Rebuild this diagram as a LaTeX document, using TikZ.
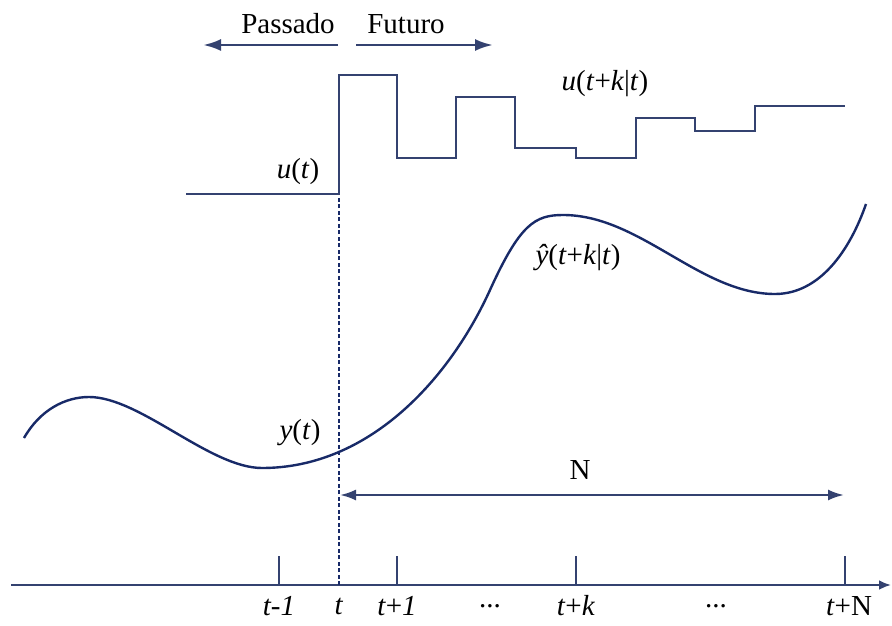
\documentclass[tikz,border=0pt]{standalone}
\usepackage{fontspec}
\setmainfont{Liberation Serif}
\usetikzlibrary{arrows.meta}
\definecolor{linenavy}{RGB}{52,66,112}
\definecolor{curvenavy}{RGB}{24,42,104}
\begin{document}
\begin{tikzpicture}[
	x=1pt, y=-1pt,
	axis/.style={ linenavy, line width=2.6pt },
	stepline/.style={ linenavy, line width=2.4pt },
	outcurve/.style={ curvenavy, line width=2.4pt },
	arr/.style={ linenavy, line width=2.8pt, -{Latex[length=18pt,width=12pt]} },
	nowline/.style={ curvenavy, line width=1.3pt, dash pattern=on 4pt off 2.5pt },
	lbl/.style={ inner sep=0pt, font=\fontsize{29}{34}\selectfont }
]
\useasboundingbox (0,0) rectangle (892,626);

% time axis
\coordinate (ax0) at (11,585);
\coordinate (ax1) at (891,585);
\draw[axis, -{Latex[length=12pt,width=10pt]}] (ax0) -- (ax1);

\foreach \p/\x in {tm1/279, tp1/397, tpk/576, tpN/845} {
	\coordinate (\p) at (\x,585);
	\coordinate (\p top) at (\x,556);
	\draw[axis, line width=2pt] (\p) -- (\p top);
}
\coordinate (tnow) at (339,585);
\coordinate (tnowtop) at (339,194);
\draw[nowline] (tnow) -- (tnowtop);

\node[lbl] at (279,606) (ltm1) {\textit{t-1}};
\node[lbl] at (339,606) (lt) {\textit{t}};
\node[lbl] at (397,606) (ltp1) {\textit{t}+\textit{1}};
\node[lbl] at (490,606) (ldots1) {...};
\node[lbl] at (576,606) (ltpk) {\textit{t}+\textit{k}};
\node[lbl] at (716,606) (ldots2) {...};
\node[lbl] at (849,606) (ltpN) {\textit{t}+N};

% past / future
\node[lbl] at (288,24) (past) {Passado};
\node[lbl] at (406,24) (future) {Futuro};
\coordinate (pastA) at (338,45);
\coordinate (pastB) at (203,45);
\coordinate (futA) at (356,45);
\coordinate (futB) at (493,45);
\draw[arr] (pastA) -- (pastB);
\draw[arr] (futA) -- (futB);

% control signal
\coordinate (s0) at (186,194);
\coordinate (s1) at (397,75);
\coordinate (s2) at (456,158);
\coordinate (s3) at (515,97);
\coordinate (s4) at (576,148);
\coordinate (s5) at (636,158);
\coordinate (s6) at (695,118);
\coordinate (s7) at (755,131);
\coordinate (s8) at (845,106);
\draw[stepline] (s0) -- (tnowtop) |- (s1) |- (s2) |- (s3) |- (s4) |- (s5) |- (s6) |- (s7) |- (s8);

\node[lbl] at (298,172) (ut) {\textit{u}(\textit{t})};
\node[lbl] at (605,84) (utk) {\textit{u}(\textit{t}+\textit{k}|\textit{t})};

% output
\coordinate (y0) at (24,438);
\coordinate (y1) at (89,397);
\coordinate (y2) at (262,468);
\coordinate (y3) at (490,290);
\coordinate (y4) at (563,215);
\coordinate (y5) at (775,294);
\coordinate (y6) at (866,204);
\draw[outcurve] (y0) .. controls (40,410) and (65,397) .. (y1)
	.. controls (140,397) and (210,468) .. (y2)
	.. controls (370,468) and (450,378) .. (y3)
	.. controls (520,224) and (535,215) .. (y4)
	.. controls (640,215) and (700,294) .. (y5)
	.. controls (820,294) and (850,250) .. (y6);

\node[lbl] at (300,433) (yt) {\textit{y}(\textit{t})};
\node[lbl] at (578,258) (yhat) {\textit{ŷ}(\textit{t}+\textit{k}|\textit{t})};

% horizon
\coordinate (hA) at (340,495);
\coordinate (hB) at (844,495);
\draw[arr, line width=2.4pt, {Latex[length=16pt,width=11pt]}-{Latex[length=16pt,width=11pt]}] (hA) -- (hB);
\node[lbl] at (580,470) (hN) {N};

\end{tikzpicture}
\end{document}
